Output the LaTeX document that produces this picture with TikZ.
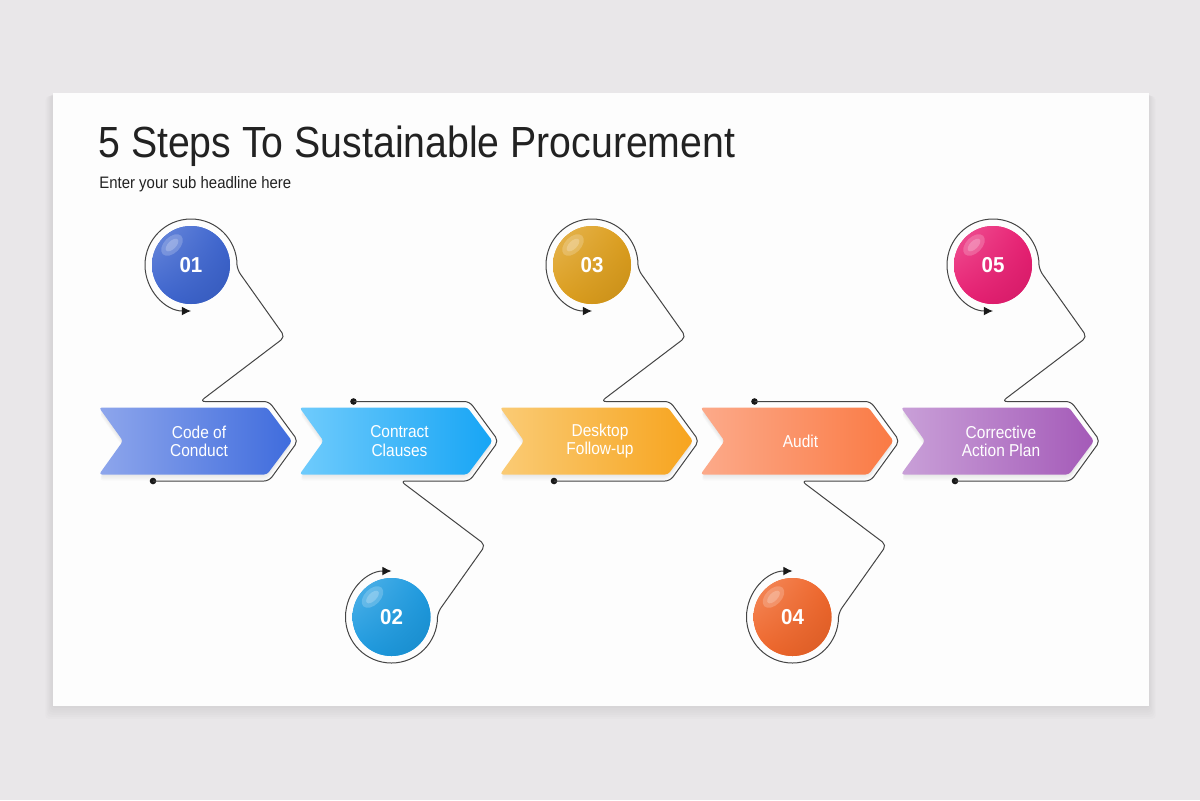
\documentclass[tikz,border=0pt]{standalone}
\usepackage{fontspec}
\setmainfont{Liberation Sans}[FakeStretch=0.9]
\newfontfamily\numfont{Liberation Sans}[FakeStretch=0.95]
\usetikzlibrary{arrows.meta,calc,shadings}

\definecolor{bgc}{HTML}{E9E7E9}
\definecolor{slidec}{HTML}{FDFDFD}
\definecolor{titlec}{HTML}{222222}
\definecolor{linec}{HTML}{444444}
% chevron gradients
\definecolor{ch1l}{HTML}{8EA6EC}\definecolor{ch1r}{HTML}{3F6CDD}
\definecolor{ch2l}{HTML}{6FCBFC}\definecolor{ch2r}{HTML}{17A5F5}
\definecolor{ch3l}{HTML}{FACB75}\definecolor{ch3r}{HTML}{F7A41E}
\definecolor{ch4l}{HTML}{FCAA8A}\definecolor{ch4r}{HTML}{FA7A44}
\definecolor{ch5l}{HTML}{C9A0D8}\definecolor{ch5r}{HTML}{A45AB8}
% ball colours
\definecolor{bl1}{HTML}{3C64CF}
\definecolor{bl2}{HTML}{1C9AE0}
\definecolor{bl3}{HTML}{DD9E1C}
\definecolor{bl4}{HTML}{F0662A}
\definecolor{bl5}{HTML}{E91E72}

\tikzset{
  conn/.style={draw=linec, line width=0.5pt, rounded corners=2.5pt},
  ringarc/.style={draw=linec, line width=0.5pt, -{Latex[length=4.6pt,width=4.4pt,color=black!90]}},
  dotmark/.style={circle, fill=black!90, draw=none, inner sep=0pt, minimum size=3.3pt},
  chlabel/.style={text=white, align=center, font=\fontsize{8.6}{9.1}\selectfont},
  ballnode/.style={circle, minimum size=39pt, inner sep=0pt, draw=none},
  ballnum/.style={text=white, inner sep=0pt, font=\numfont\bfseries\fontsize{10.8}{12}\selectfont},
}

% #1 left x, #2 name, #3 left colour, #4 right colour, #5 text
\newcommand\MyChevShape[1]{(#1,407.5) -- (#1+168,407.5) -- (#1+193,441) -- (#1+168,474.5) -- (#1,474.5) -- (#1+24,441) -- cycle}
\newcommand\MyChevron[5]{%
  \foreach \k in {1,2,3,4}{%
    \fill[black, opacity=0.018, rounded corners=2pt, shift={(0,1.5*\k)}] \MyChevShape{#1};
  }
  \shade[left color=#3, right color=#4, rounded corners=1.5pt] \MyChevShape{#1};
  \node[chlabel] (#2) at (#1+100,441) {#5};
}
% #1 name, #2 centre, #3 colour, #4 number
\newcommand\MyBall[4]{%
  \node[ballnode, fill=#3] (#1) at #2 {};
  \shade[upper left=#3!75!white, upper right=#3, lower left=#3, lower right=#3!90!black]
    (#1.center) circle[radius=19.5pt];
  \begin{scope}[shift={($(#1.center)+(-19,-20)$)}, rotate=45]
    \fill[white, opacity=0.2] (0,0) ellipse[x radius=13, y radius=8];
    \fill[white, opacity=0.22] (0,0) ellipse[x radius=8, y radius=4];
  \end{scope}
  \node[ballnum] (#1n) at (#1.center) {#4};
}
% step with ball above: #1 L, #2 index, #3 ball colour
\newcommand\MyUpLink[3]{%
  \MyBall{b#2}{(#1+92,265)}{#3}{0#2}
  \coordinate (o#2) at ($(b#2.center)+(46,0)$);
  \node[dotmark] (d#2) at (#1+54,481) {};
  \draw[conn] (d#2.center) -- (#1+170,481) -- (#1+199,441) -- (#1+170,401.5)
     -- (#1+101,401.5) -- (#1+186,337) -- (#1+138.5,270) -- (o#2);
  \draw[ringarc] (o#2) arc[start angle=0, end angle=-270, radius=46];
}
% step with ball below
\newcommand\MyDownLink[3]{%
  \MyBall{b#2}{(#1+92,617)}{#3}{0#2}
  \coordinate (o#2) at ($(b#2.center)+(46,0)$);
  \node[dotmark] (d#2) at (#1+54,401.5) {};
  \draw[conn] (d#2.center) -- (#1+170,401.5) -- (#1+199,441) -- (#1+170,481)
     -- (#1+101,481) -- (#1+186,545) -- (#1+138.5,612) -- (o#2);
  \draw[ringarc] (o#2) arc[start angle=0, end angle=270, radius=46];
}

\begin{document}
\begin{tikzpicture}[x=0.5pt, y=-0.5pt]
  \useasboundingbox (0,0) rectangle (1200,800);
  \fill[bgc] (0,0) rectangle (1200,800);
  % soft slide shadow
  \foreach \k in {1,...,6}{%
    \fill[black, opacity=0.012, rounded corners=2pt] (52.5-1.2*\k,93+0.5*\k) rectangle (1148.5+1.2*\k,706+2.2*\k);
  }
  \fill[slidec] (52.5,93) rectangle (1148.5,706);

  \node[anchor=base west, inner sep=0pt, text=titlec, font=\fontsize{21.8}{26}\selectfont] (title) at (98,157)
    {5 Steps To Sustainable Procurement};
  \node[anchor=base west, inner sep=0pt, text=titlec, font=\fontsize{8.3}{10}\selectfont] (sub) at (99,188.5)
    {Enter your sub headline here};

  \MyUpLink{99}{1}{bl1}
  \MyDownLink{299.5}{2}{bl2}
  \MyUpLink{500}{3}{bl3}
  \MyDownLink{700.5}{4}{bl4}
  \MyUpLink{901}{5}{bl5}

  \MyChevron{99}{s1}{ch1l}{ch1r}{Code of\\Conduct}
  \MyChevron{299.5}{s2}{ch2l}{ch2r}{Contract\\Clauses}
  \MyChevron{500}{s3}{ch3l}{ch3r}{Desktop\\Follow-up}
  \MyChevron{700.5}{s4}{ch4l}{ch4r}{Audit}
  \MyChevron{901}{s5}{ch5l}{ch5r}{Corrective\\Action Plan}
\end{tikzpicture}
\end{document}
